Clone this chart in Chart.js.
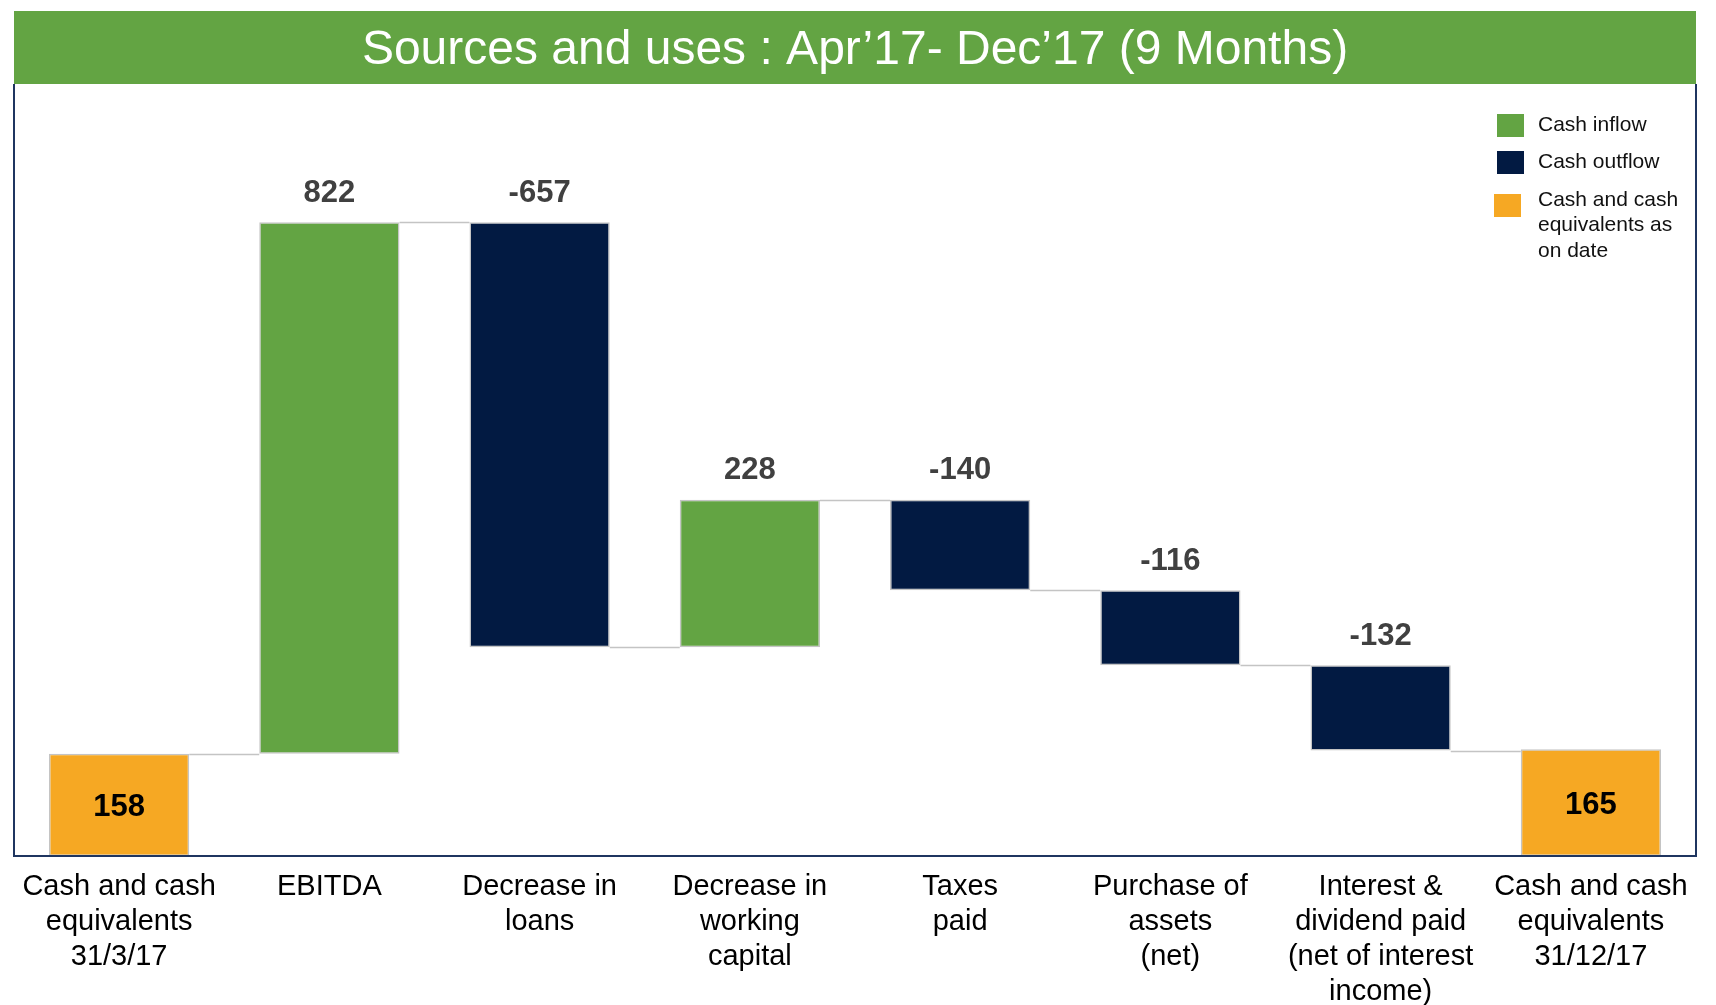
<!DOCTYPE html>
<html>
<head>
<meta charset="utf-8">
<script src="https://cdn.jsdelivr.net/npm/chart.js@4/dist/chart.umd.min.js"></script>
<style>
  html, body { margin: 0; padding: 0; background: #fff; }
  #wrap { width: 1716px; height: 1005px; }
</style>
</head>
<body>
<div id="wrap"><canvas id="c" width="1716" height="1005"></canvas></div>
<script>
const titleText = "Sources and uses : Apr\u201917- Dec\u201917 (9 Months)";
const categories = [
  ["Cash and cash", "equivalents", "31/3/17"],
  ["EBITDA"],
  ["Decrease in", "loans"],
  ["Decrease in", "working", "capital"],
  ["Taxes", "paid"],
  ["Purchase of", "assets", "(net)"],
  ["Interest &", "dividend paid", "(net of interest", "income)"],
  ["Cash and cash", "equivalents", "31/12/17"]
];
const values = [158, 822, -657, 228, -140, -116, -132, 165];
const kinds = ["total", "flow", "flow", "flow", "flow", "flow", "flow", "total"];
const legendItems = [
  { key: "inflow", lines: ["Cash inflow"] },
  { key: "outflow", lines: ["Cash outflow"] },
  { key: "total", lines: ["Cash and cash", "equivalents as", "on date"] }
];

const COLORS = { inflow: "#63A443", outflow: "#021A42", total: "#F6A823" };
const FONT = "'Liberation Sans', Arial, sans-serif";

// floating ranges for the waterfall
let run = 0;
const ranges = values.map((v, i) => {
  if (kinds[i] === "total") { run = v; return [0, v]; }
  const start = run; run = run + v; return [start, run];
});
const levels = ranges.map(r => r[1]);
const barColors = values.map((v, i) => kinds[i] === "total" ? COLORS.total : (v >= 0 ? COLORS.inflow : COLORS.outflow));

const bannerPlugin = {
  id: "banner",
  beforeDraw(chart) {
    const t = chart.titleBlock;
    const ctx = chart.ctx;
    ctx.save();
    ctx.fillStyle = "#63A443";
    ctx.fillRect(t.left, t.top, t.right - t.left, t.bottom - t.top);
    ctx.restore();
  }
};

const connectorPlugin = {
  id: "connectors",
  beforeDatasetsDraw(chart) {
    const ctx = chart.ctx;
    const meta = chart.getDatasetMeta(0);
    const y = chart.scales.y;
    ctx.save();
    ctx.strokeStyle = "#C4C4C4";
    ctx.lineWidth = 1.5;
    for (let i = 0; i < meta.data.length - 1; i++) {
      const a = meta.data[i], b = meta.data[i + 1];
      const py = Math.round(y.getPixelForValue(levels[i])) + 0.5;
      ctx.beginPath();
      ctx.moveTo(a.x + a.width / 2, py);
      ctx.lineTo(b.x - b.width / 2, py);
      ctx.stroke();
    }
    ctx.restore();
  }
};

const labelPlugin = {
  id: "valueLabels",
  afterDatasetsDraw(chart) {
    const ctx = chart.ctx;
    const meta = chart.getDatasetMeta(0);
    ctx.save();
    ctx.textAlign = "center";
    ctx.textBaseline = "middle";
    meta.data.forEach((el, i) => {
      const top = Math.min(el.y, el.base);
      const bottom = Math.max(el.y, el.base);
      ctx.font = "bold 31px " + FONT;
      if (kinds[i] === "total") {
        ctx.fillStyle = "#000";
        ctx.fillText(String(values[i]), el.x, (top + bottom) / 2 + 3);
      } else {
        ctx.fillStyle = "#404040";
        ctx.fillText(String(values[i]), el.x, top - 29);
      }
    });
    ctx.restore();
  }
};

const framePlugin = {
  id: "frame",
  afterDraw(chart) {
    const a = chart.chartArea;
    const ctx = chart.ctx;
    ctx.save();
    ctx.strokeStyle = "#1F3560";
    ctx.lineWidth = 2;
    ctx.beginPath();
    ctx.moveTo(a.left, a.top);
    ctx.lineTo(a.left, a.bottom);
    ctx.lineTo(a.right, a.bottom);
    ctx.lineTo(a.right, a.top);
    ctx.stroke();
    ctx.restore();
  }
};

const legendPlugin = {
  id: "customLegend",
  afterDraw(chart) {
    const ctx = chart.ctx;
    const rows = [125, 162, 200];
    ctx.save();
    ctx.font = "21px " + FONT;
    ctx.textBaseline = "middle";
    ctx.textAlign = "left";
    legendItems.forEach((it, i) => {
      const y0 = rows[i];
      ctx.fillStyle = COLORS[it.key];
      const sx = i === 2 ? 1494 : 1497;
      const sq = i === 2 ? 205 : y0;
      ctx.fillRect(sx, sq - 11, 27, 23);
      ctx.fillStyle = "#111";
      it.lines.forEach((ln, j) => {
        ctx.fillText(ln, 1538, y0 + j * 25.5);
      });
    });
    ctx.restore();
  }
};

new Chart(document.getElementById("c"), {
  type: "bar",
  data: {
    labels: categories,
    datasets: [{
      data: ranges,
      backgroundColor: barColors,
      borderColor: "#C4C4C4",
      borderWidth: 1.5,
      borderSkipped: false,
      barPercentage: 1,
      categoryPercentage: 0.667
    }]
  },
  options: {
    responsive: false,
    animation: false,
    devicePixelRatio: 1,
    layout: { padding: { left: 14, right: 20, top: 11, bottom: 0 } },
    plugins: {
      legend: { display: false },
      tooltip: { enabled: false },
      title: {
        display: true,
        text: titleText,
        color: "#ffffff",
        font: { family: FONT, size: 48, weight: "normal", lineHeight: 1.0 },
        padding: { top: 16, bottom: 9 }
      }
    },
    scales: {
      x: {
        grid: { display: false },
        border: { display: false },
        ticks: {
          color: "#000",
          font: { family: FONT, size: 29, lineHeight: 1.2 },
          padding: 6,
          maxRotation: 0,
          autoSkip: false
        },
        afterFit(scale) { scale.height = 149; }
      },
      y: {
        display: false,
        min: 0,
        max: 1194
      }
    }
  },
  plugins: [bannerPlugin, connectorPlugin, labelPlugin, framePlugin, legendPlugin]
});
</script>
</body>
</html>
